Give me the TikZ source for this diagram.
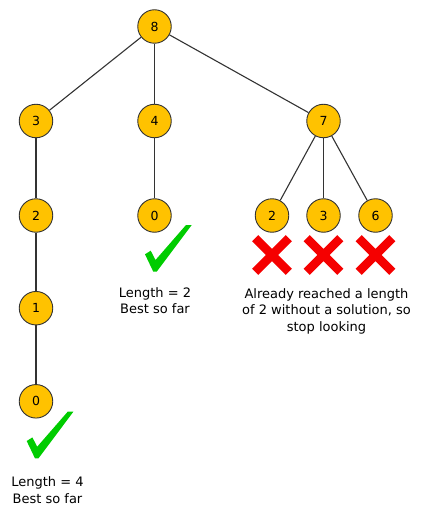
\documentclass[tikz,border=0pt]{standalone}
\usepackage{fontspec}
\setmainfont{DejaVu Sans}
\definecolor{nodefill}{HTML}{FFC200}
\definecolor{edgegray}{HTML}{333333}
\definecolor{okgreen}{HTML}{00CC00}
\definecolor{badred}{HTML}{F50000}
\tikzset{
  x=1pt, y=-1pt,
  tnode/.style={circle, draw=edgegray, line width=0.9pt, fill=nodefill, minimum size=33.5pt, inner sep=0pt, font=\fontsize{12.5}{14}\selectfont},
  edge/.style={draw=edgegray, line width=1.1pt},
  note/.style={align=center, inner sep=0pt, font=\fontsize{13}{16.5}\selectfont},
  checkmark/.pic={\fill[okgreen] (0,29.3) -- (5.7,25.7) -- (10.5,35) -- (41,0) -- (46.7,0) -- (11.7,46.7) -- (8.3,46.7) -- cycle;},
  crossmark/.pic={\draw[badred, line width=8.5pt] (-16.8,-16.8) -- (16.8,16.8) (-16.8,16.8) -- (16.8,-16.8);}
}
\begin{document}
\begin{tikzpicture}
\useasboundingbox (0,0) rectangle (420,513);
\node[tnode] (n8) at (154.5,26.5) {8};
\node[tnode] (n3) at (36,121) {3};
\node[tnode] (n4) at (154.5,121) {4};
\node[tnode] (n7) at (323.5,121) {7};
\node[tnode] (n2a) at (36,215.5) {2};
\node[tnode] (n0a) at (154.5,215.5) {0};
\node[tnode] (n2b) at (272,215.5) {2};
\node[tnode] (n3b) at (323.5,215.5) {3};
\node[tnode] (n6) at (375.5,215.5) {6};
\node[tnode] (n1) at (36,308.2) {1};
\node[tnode] (n0b) at (36,401.3) {0};
\begin{scope}[on background layer/.try]
\end{scope}
\draw[edge] (n8) -- (n3);
\draw[edge] (n8) -- (n4);
\draw[edge] (n8) -- (n7);
\draw[edge] (n3) -- (n2a);
\draw[edge] (n2a) -- (n1);
\draw[edge] (n1) -- (n0b);
\draw[edge] (n4) -- (n0a);
\draw[edge] (n7) -- (n2b);
\draw[edge] (n7) -- (n3b);
\draw[edge] (n7) -- (n6);
\pic at (145,225) {checkmark};
\pic at (26.7,411.7) {checkmark};
\pic at (272,255) {crossmark};
\pic at (323.5,255) {crossmark};
\pic at (375.5,255) {crossmark};
\node[note] (l2) at (155,300.5) {Length = 2\\Best so far};
\node[note] (stop) at (326.5,311) {Already reached a length\\of 2 without a solution, so\\stop looking};
\node[note] (l4) at (47.5,490) {Length = 4\\Best so far};
\end{tikzpicture}
\end{document}
